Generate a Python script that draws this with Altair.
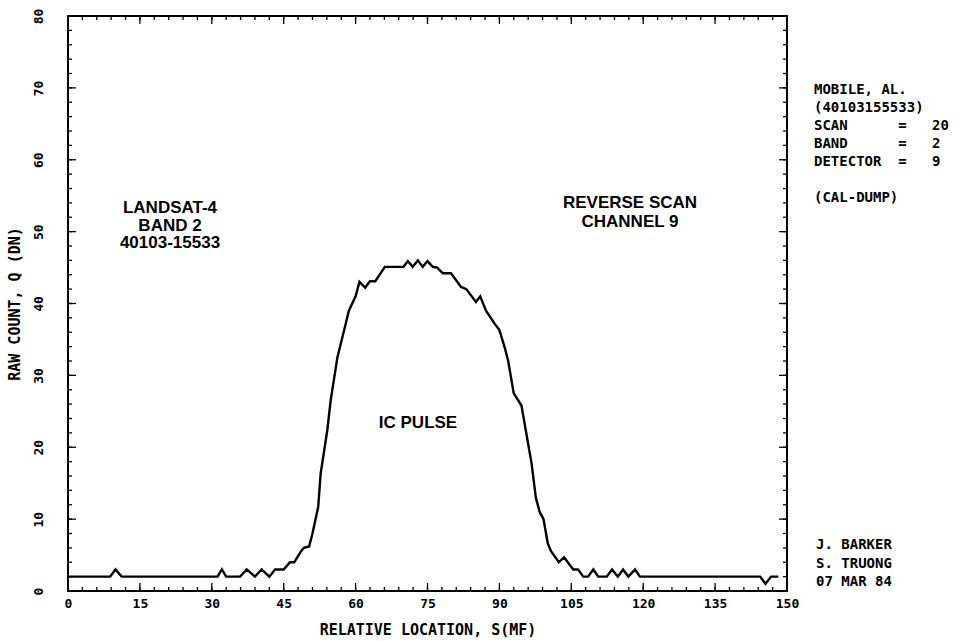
import altair as alt
import pandas as pd

# ---- data ----
s_vals = [0, 8.8, 9.9, 11.2, 31.2, 32.1, 33.0, 35.9, 37.3, 39.0, 40.4, 42.0, 43.2, 45.0,
          46.3, 47.2, 48.6, 49.2, 50.3, 51.0, 52.2, 52.7, 54.1, 54.8, 56.2, 57.5, 58.6,
          60.0, 60.8, 62.0, 63.0, 64.1, 66.1, 70.0, 70.9, 71.9, 73.0, 74.0, 75.0, 76.1,
          77.0, 78.2, 79.9, 82.0, 83.1, 85.1, 86.0, 87.2, 89.0, 90.0, 91.1, 91.8, 93.0,
          94.6, 96.7, 97.6, 98.4, 99.2, 100.1, 100.8, 102.4, 103.5, 105.4, 106.4, 107.5,
          108.5, 109.6, 110.6, 112.4, 113.5, 114.7, 115.8, 116.9, 118.3, 119.3, 144.4,
          145.5, 146.7, 148.2]
q_vals = [2, 2, 3, 2, 2, 3, 2, 2, 3, 2, 3, 2, 3, 3,
          4, 4, 5.5, 6, 6.2, 8, 11.7, 16.3, 22.4, 26.5, 32.5, 36, 39,
          41, 43, 42.2, 43.1, 43.1, 45.1, 45.1, 45.9, 45.1, 46, 45.1, 45.9, 45.1,
          45, 44.2, 44.2, 42.3, 42, 40.2, 41, 39, 37.2, 36.3, 33.9, 32.1, 27.5,
          25.8, 17.8, 13, 11, 10, 6.6, 5.5, 4, 4.7, 3, 3, 2,
          2, 3, 2, 2, 3, 2, 3, 2, 3, 2, 2,
          1, 2, 2]

x_major = [0, 15, 30, 45, 60, 75, 90, 105, 120, 135, 150]
x_minor = list(range(0, 151, 3))
y_major = [0, 10, 20, 30, 40, 50, 60, 70, 80]
y_minor = list(range(0, 81, 2))

left_note = "LANDSAT-4\nBAND 2\n40103-15533"
mid_note = "REVERSE SCAN\nCHANNEL 9"
pulse_note = "IC PULSE"
NB = "\u00a0"
info_lines = ["MOBILE, AL.", "(40103155533)",
              "SCAN" + NB * 6 + "=" + NB * 3 + "20",
              "BAND" + NB * 6 + "=" + NB * 3 + "2",
              "DETECTOR" + NB * 2 + "=" + NB * 3 + "9"]
cal_note = "(CAL-DUMP)"
author_lines = ["J. BARKER", "S. TRUONG", "07 MAR 84"]

W, H = 719, 575
MONO = "DejaVu Sans Mono"
SANS = "Liberation Sans"

xs = alt.Scale(domain=[0, 150], nice=False, zero=False)
ys = alt.Scale(domain=[0, 80], nice=False, zero=False)

x_title = "RELATIVE LOCATION, S(MF)"
y_title = "RAW COUNT, Q (DN)"

line = alt.Chart(pd.DataFrame({"s": s_vals, "q": q_vals})).mark_line(
    color="black", strokeWidth=2.4, strokeJoin="miter"
).encode(
    x=alt.X("s:Q", scale=xs, title=x_title, axis=alt.Axis(
        values=x_major, ticks=False, domain=False,
        grid=False, labelFont=MONO, labelFontWeight="bold", labelFontSize=13,
        labelColor="black", labelPadding=6, labelFlush=False,
        titleFont=MONO, titleFontWeight="bold", titleFontSize=15, titleColor="black",
        titlePadding=12)),
    y=alt.Y("q:Q", scale=ys, title=y_title, axis=alt.Axis(
        values=y_major, ticks=False, domain=False,
        grid=False, labelFont=MONO, labelFontWeight="bold", labelFontSize=13,
        labelColor="black", labelAngle=270, labelAlign="center",
        labelBaseline="bottom", labelPadding=23, labelFlush=False,
        titleFont=MONO, titleFontWeight="bold", titleFontSize=15, titleColor="black",
        titlePadding=10)),
    order="s:Q",
)


def xticks(vals, length):
    df = pd.DataFrame({"s": vals})
    bottom = alt.Chart(df).mark_rule(color="black", strokeWidth=1.3).encode(
        x=alt.X("s:Q", scale=xs, title=x_title), y=alt.value(H), y2=alt.value(H - length))
    top = alt.Chart(df).mark_rule(color="black", strokeWidth=1.3).encode(
        x=alt.X("s:Q", scale=xs, title=x_title), y=alt.value(0), y2=alt.value(length))
    return [bottom, top]


def yticks(vals, length):
    df = pd.DataFrame({"q": vals})
    left = alt.Chart(df).mark_rule(color="black", strokeWidth=1.3).encode(
        y=alt.Y("q:Q", scale=ys, title=y_title), x=alt.value(0), x2=alt.value(length))
    right = alt.Chart(df).mark_rule(color="black", strokeWidth=1.3).encode(
        y=alt.Y("q:Q", scale=ys, title=y_title), x=alt.value(W), x2=alt.value(W - length))
    return [left, right]


def note(text, x, y, font, size, align="center", lh=18):
    return alt.Chart(pd.DataFrame({"t": [text]})).mark_text(
        font=font, fontWeight="bold", fontSize=size, color="black", align=align,
        baseline="middle", lineBreak="\n", lineHeight=lh
    ).encode(text="t:N", x=alt.value(x), y=alt.value(y))


layers = [line]
layers += (xticks(x_minor, 4) + xticks(x_major, 8) + yticks(y_minor, 4) + yticks(y_major, 8))
layers += [
    note(left_note, 102, 192, SANS, 17, lh=17.5),
    note(mid_note, 562, 187, SANS, 17, lh=19),
    note(pulse_note, 350, 407, SANS, 17),
    note("\n".join(info_lines), 746, 74, MONO, 14, align="left", lh=18),
    note(cal_note, 746, 182, MONO, 14, align="left"),
    note("\n".join(author_lines), 748, 529, MONO, 14, align="left", lh=18.5),
]

chart = alt.layer(*layers).properties(
    width=W, height=H, autosize="none",
    padding={"left": 68, "top": 16, "right": 172, "bottom": 50},
    background="white",
).configure_view(stroke="black", strokeWidth=2)

chart.save("out.html", embed_options={"renderer": "svg", "actions": False})
